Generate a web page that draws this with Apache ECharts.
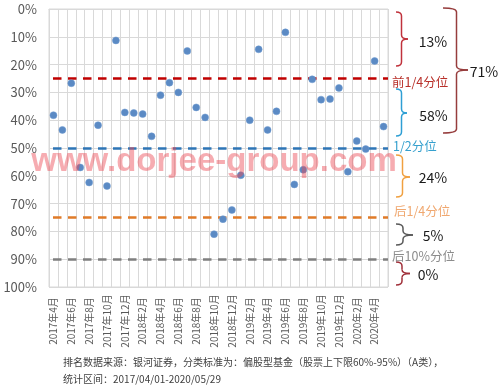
<!DOCTYPE html>
<html>
<head>
<meta charset="utf-8">
<script src="https://cdn.jsdelivr.net/npm/echarts@6/dist/echarts.min.js"></script>
<style>
html,body{margin:0;padding:0;background:#fff;}
#chart{width:499px;height:390px;}
</style>
</head>
<body>
<div id="chart"></div>
<script>
const categories = [
  '2017年4月','2017年5月','2017年6月','2017年7月','2017年8月','2017年9月','2017年10月','2017年11月','2017年12月',
  '2018年1月','2018年2月','2018年3月','2018年4月','2018年5月','2018年6月','2018年7月','2018年8月','2018年9月','2018年10月','2018年11月','2018年12月',
  '2019年1月','2019年2月','2019年3月','2019年4月','2019年5月','2019年6月','2019年7月','2019年8月','2019年9月','2019年10月','2019年11月','2019年12月',
  '2020年1月','2020年2月','2020年3月','2020年4月','2020年5月'
];
const rankPct = [38.2, 43.5, 26.7, 57.0, 62.4, 41.8, 63.7, 11.3, 37.2, 37.4, 37.8, 45.8, 31.0, 26.5, 30.0, 15.1, 35.4, 39.0, 81.0, 75.6, 72.3, 59.8, 40.0, 14.5, 43.5, 36.8, 8.4, 63.1, 57.8, 25.3, 32.6, 32.4, 28.4, 58.5, 47.5, 50.4, 18.7, 42.3];
const refLevels = [25, 50, 75, 90];
const refColors = ['#C00000', '#2E75B6', '#E07B28', '#7F7F7F'];
const bandShares = ['13%', '58%', '24%', '5%', '0%'];
const totalShare = '71%';
const refNames = ['前1/4分位', '1/2分位', '后1/4分位', '后10%分位'];
const footer1 = '排名数据来源：银河证券，分类标准为：偏股型基金（股票上下限60%-95%）（A类），';
const footer2 = '统计区间：2017/04/01-2020/05/29';
const watermark = 'www.dorjee-group.com';

const CJK = '"Noto Sans CJK SC","Noto Sans",sans-serif';

function brace(x0, y1, y2, xv, ym, xt, color) {
  const r = Math.min(4, (y2 - y1) / 5);
  const st = { fill: null, stroke: color, lineWidth: 1.5 };
  const q = (ax, ay, bx, by, cx, cy) => ({ type: 'bezierCurve', silent: true,
    shape: { x1: ax, y1: ay, x2: bx, y2: by, cpx1: cx, cpy1: cy }, style: st });
  const l = (ax, ay, bx, by) => ({ type: 'line', silent: true,
    shape: { x1: ax, y1: ay, x2: bx, y2: by }, style: st });
  return { type: 'group', silent: true, z: 50, children: [
    q(x0, y1, xv, y1 + r, xv, y1),
    l(xv, y1 + r, xv, ym - r),
    q(xv, ym - r, xt, ym, xv, ym),
    q(xt, ym, xv, ym + r, xv, ym),
    l(xv, ym + r, xv, y2 - r),
    q(xv, y2 - r, x0, y2, xv, y2)
  ] };
}
function label(text, x, y, color, size, align) {
  return { type: 'text', silent: true, z: 50, x: x, y: y,
    style: { text: text, fill: color, font: size + 'px ' + CJK,
      textAlign: align || 'center', textVerticalAlign: 'middle' } };
}

const chart = echarts.init(document.getElementById('chart'), null, { renderer: 'canvas' });
chart.setOption({
  animation: false,
  backgroundColor: '#ffffff',
  grid: { left: 49, top: 9, width: 339, height: 278, show: true, borderColor: '#D9D9D9', borderWidth: 1 },
  xAxis: {
    type: 'category', data: categories, boundaryGap: true,
    axisLine: { show: true, lineStyle: { color: '#D9D9D9', width: 1 } },
    axisTick: { show: true, interval: 0, length: 4, lineStyle: { color: '#D9D9D9' } },
    splitLine: { show: true, interval: 0, lineStyle: { color: '#D9D9D9', width: 1 } },
    axisLabel: { interval: 1, rotate: 90, align: 'center', verticalAlign: 'middle', margin: 34,
      fontSize: 10, color: '#595959', fontFamily: CJK }
  },
  yAxis: {
    type: 'value', inverse: true, min: 0, max: 100, interval: 10,
    axisLine: { show: false }, axisTick: { show: false },
    splitLine: { show: true, lineStyle: { color: '#D9D9D9', width: 1 } },
    axisLabel: { formatter: '{value}%', fontSize: 13, color: '#595959', margin: 12, fontFamily: CJK }
  },
  series: [{
    type: 'scatter', data: rankPct, symbol: 'circle', symbolSize: 7,
    itemStyle: { color: '#5B8AC4', borderColor: '#6E9AD0', borderWidth: 0.5, opacity: 1 },
    z: 5,
    markLine: {
      silent: true, symbol: ['none', 'none'], label: { show: false },
      data: refLevels.map((v, i) => ({ yAxis: v,
        lineStyle: { color: refColors[i], width: 2.5, type: [8.5, 6.5], dashOffset: 11 } }))
    }
  }],
  graphic: [
    { type: 'text', silent: true, z: 100, x: 214, y: 162,
      style: { text: watermark, fill: 'rgba(236,70,82,0.45)', font: 'bold 33px "Liberation Sans",Arial,sans-serif',
        textAlign: 'center', textVerticalAlign: 'middle' } },
    brace(396, 12, 66, 401.5, 39, 408, '#C0323C'),
    brace(396, 89, 136, 401.5, 113, 407, '#2E9FD4'),
    brace(396, 155, 197, 402.5, 177, 410, '#F0A040'),
    brace(396, 224, 245, 403, 235, 413, '#595959'),
    brace(396, 262, 285, 402, 273.5, 410, '#A0303A'),
    brace(443, 8, 133, 456.5, 70, 468, '#963C3C'),
    label(bandShares[0], 433, 42, '#1a1a1a', 14),
    label(bandShares[1], 433.5, 116, '#1a1a1a', 14),
    label(bandShares[2], 433, 178, '#1a1a1a', 14),
    label(bandShares[3], 433, 236, '#1a1a1a', 14),
    label(bandShares[4], 428, 274.5, '#1a1a1a', 14),
    label(totalShare, 484, 72, '#1a1a1a', 14),
    label(refNames[0], 392, 82, '#B8302A', 12.5, 'left'),
    label(refNames[1], 393, 146, '#35A0CE', 12.5, 'left'),
    label(refNames[2], 394, 211, '#F0A870', 12.5, 'left'),
    label(refNames[3], 392, 256, '#8C8C8C', 12.5, 'left'),
    label(footer1, 63, 362, '#404040', 10, 'left'),
    label(footer2, 63, 379, '#404040', 10, 'left')
  ]
});
</script>
</body>
</html>
